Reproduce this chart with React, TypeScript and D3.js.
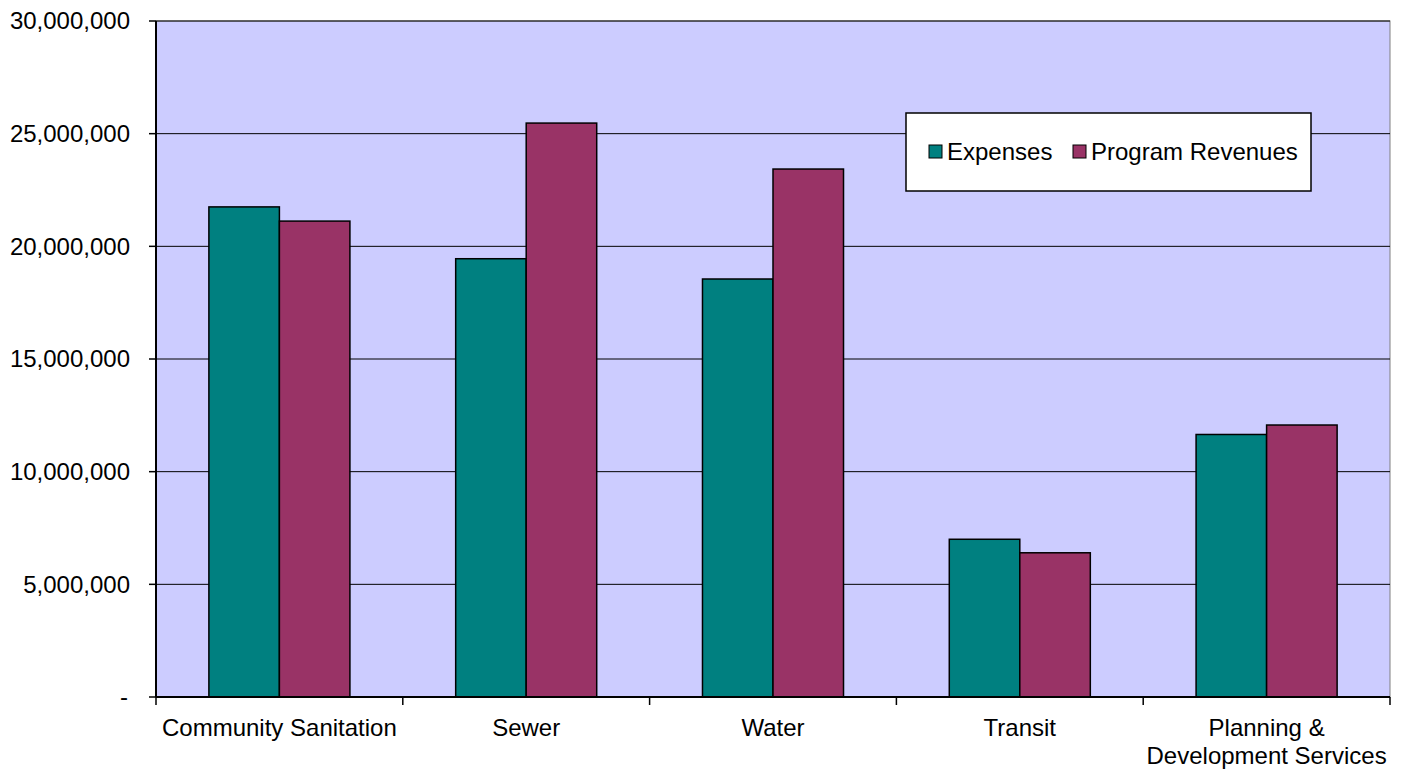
import React from "react";
import * as d3 from "d3";

const categories = ["Community Sanitation", "Sewer", "Water", "Transit", "Planning & Development Services"];
const categoryLines = [["Community Sanitation"], ["Sewer"], ["Water"], ["Transit"], ["Planning &", "Development Services"]];
const seriesNames = ["Expenses", "Program Revenues"];
const expenses = [21750000, 19450000, 18550000, 7000000, 11650000];
const revenues = [21120000, 25470000, 23430000, 6400000, 12070000];
const yTicks = [0, 5000000, 10000000, 15000000, 20000000, 25000000, 30000000];
const colors = ["#008080", "#993366"];

export default function App() {
  const W = 1407, H = 769;
  const m = { left: 156, right: 1390, top: 21, bottom: 697 };
  const x = d3.scaleBand<string>().domain(categories).range([m.left, m.right]).paddingInner(0).paddingOuter(0);
  const y = d3.scaleLinear().domain([0, 30000000]).range([m.bottom, m.top]);
  const bw = x.bandwidth() / 3.5;
  const fmt = (v: number) => (v === 0 ? "-" : d3.format(",")(v));
  const font = "Liberation Sans, Arial, sans-serif";
  const fs = 24;
  const series = [expenses, revenues];
  return (
    <svg width={W} height={H} style={{ position: "absolute", left: 0, top: 0, background: "#fff" }}>
      <rect x={m.left} y={m.top} width={m.right - m.left} height={m.bottom - m.top} fill="#ccccff" stroke="#808080" strokeWidth={1} />
      {yTicks.map((t) => (
        <g key={t}>
          {t > 0 && <line x1={m.left} x2={m.right} y1={y(t)} y2={y(t)} stroke="#000" strokeWidth={1} />}
          <line x1={m.left - 7} x2={m.left} y1={y(t)} y2={y(t)} stroke="#000" strokeWidth={1.5} />
          <text x={t === 0 ? 128 : 130} y={y(t)} dy="0.35em" textAnchor="end" fontFamily={font} fontSize={fs}>{fmt(t)}</text>
        </g>
      ))}
      {categories.map((c, i) => (
        <g key={c}>
          {series.map((s, j) => (
            <rect key={j} x={(x(c) as number) + bw * 0.75 + j * bw} y={y(s[i])} width={bw} height={m.bottom - y(s[i])} fill={colors[j]} stroke="#000" strokeWidth={1.5} />
          ))}
          {categoryLines[i].map((ln, k) => (
            <text key={k} x={(x(c) as number) + x.bandwidth() / 2} y={736 + k * 28} textAnchor="middle" fontFamily={font} fontSize={fs}>{ln}</text>
          ))}
        </g>
      ))}
      <line x1={m.left} x2={m.left} y1={m.top} y2={m.bottom} stroke="#000" strokeWidth={2} />
      <line x1={m.left} x2={m.right} y1={m.bottom} y2={m.bottom} stroke="#000" strokeWidth={2} />
      {categories.map((c, i) => (
        <line key={i} x1={x(c) as number} x2={x(c) as number} y1={m.bottom} y2={m.bottom + 8} stroke="#000" strokeWidth={1.5} />
      ))}
      <line x1={m.right} x2={m.right} y1={m.bottom} y2={m.bottom + 8} stroke="#000" strokeWidth={1.5} />
      <g>
        <rect x={906} y={113} width={405} height={78} fill="#fff" stroke="#000" strokeWidth={1.5} />
        {seriesNames.map((n, j) => (
          <g key={n}>
            <rect x={[929, 1073][j]} y={145} width={13} height={13} fill={colors[j]} stroke="#000" strokeWidth={1} />
            <text x={[947, 1091][j]} y={152} dy="0.35em" fontFamily={font} fontSize={fs}>{n}</text>
          </g>
        ))}
      </g>
    </svg>
  );
}
